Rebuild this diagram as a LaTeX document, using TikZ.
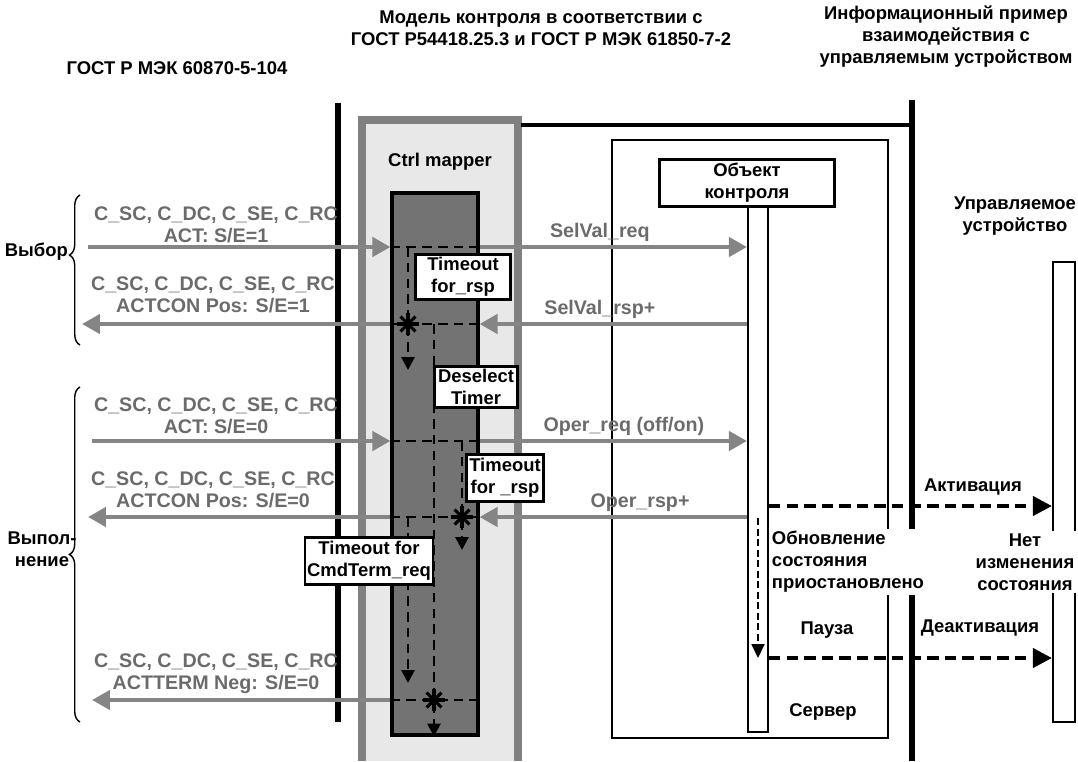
\documentclass[tikz,border=0pt]{standalone}
\usepackage{fontspec}
\setmainfont{Liberation Sans}
\usepackage{tikz}
\usetikzlibrary{positioning,arrows.meta,calc,decorations.pathreplacing}

\begin{document}
\begin{tikzpicture}[x=0.02cm,y=-0.02cm,font=\fontsize{10.5}{12.5}\selectfont\bfseries,
  msg/.style={line width=2.6pt,draw=black!48,-{Triangle[length=3.6mm,width=3.8mm]}},
  msglbl/.style={text=black!58,align=center,inner sep=0pt,font=\fontsize{11.2}{12.5}\selectfont\bfseries},
  tdash/.style={line width=1.6pt,dash pattern=on 5.5pt off 3.5pt},
  tarrow/.style={tdash,-{Triangle[length=2.6mm,width=2.6mm]}},
  tbox/.style={draw,line width=1.3pt,fill=white,align=center,inner sep=1pt},
  devarrow/.style={line width=2.2pt,dash pattern=on 6.5pt off 3.5pt,-{Triangle[length=3.8mm,width=3.8mm]}},
  heavy/.style={line width=3.4pt},
  tstar/.pic={\foreach \a in {0,45,90,135} \draw[line width=1.8pt] (\a:6pt) -- (\a+180:6pt);}]
\useasboundingbox (0,0) rectangle (1078,761);
% headings
\node (h104) at (177,68) {ГОСТ Р МЭК 60870-5-104};
\node[align=center] (hmodel) at (541,28) {Модель контроля в соответствии с\\ГОСТ Р54418.25.3 и ГОСТ Р МЭК 61850-7-2};
\node[align=center] (hinfo) at (946,37) {Информационный пример\\взаимодействия с\\управляемым устройством};
% frames
\fill[black!9] (362,120) rectangle (518,761);
\draw[line width=4.5pt,black!50] (362,761) -- (362,120) -- (518,120) -- (518,761);
\draw[heavy] (338,103) -- (338,722);
\draw[heavy] (912,100) -- (912,761);
\draw[line width=1.8pt] (521,125) -- (912,125);
\draw[line width=1.2pt] (612,140) rectangle (888,738);
\node (mapper) at (440,162) {Ctrl mapper};
\node[draw,line width=1.8pt,fill=black!55,minimum width=1.72cm,minimum height=10.84cm,inner sep=0pt] (ctrl) at (435,464) {};
\node[draw,line width=1.2pt,fill=white,minimum width=3.5cm,minimum height=0.94cm,align=center,inner sep=1pt] (obj) at (747,183) {Объект\\контроля};
\node[draw,line width=1.2pt,fill=white,minimum width=0.4cm,minimum height=10.5cm,inner sep=0pt] (life) at (758,469.5) {};
\node[draw,line width=1.2pt,minimum width=0.44cm,minimum height=9.2cm,inner sep=0pt] (dev) at (1064,492) {};
\node[align=center] (devlbl) at (1015,216) {Управляемое\\устройство};
% message levels
\coordinate (act1) at (88,247);
\coordinate (con1) at (82,324);
\coordinate (act0) at (92,441);
\coordinate (con0) at (88,517);
\coordinate (term) at (92,700);
\coordinate (colA) at (408,0);
\coordinate (colB) at (434,0);
\coordinate (colC) at (462,0);
% timers in the mapper
\foreach \m in {act1,con1,act0,con0,term} \draw[tdash] (\m -| ctrl.west) -- (\m -| ctrl.east);
\draw[tarrow] (act1 -| colA) -- ++(0,123);
\draw[tarrow] (con1 -| colB) -- (ctrl.south -| colB);
\draw[tarrow] (act0 -| colC) -- ++(0,109);
\draw[tarrow] (con0 -| colA) -- ++(0,166);
\pic at (con1 -| colA) {tstar};
\pic at (con0 -| colC) {tstar};
\pic at (term -| colB) {tstar};
\node[tbox,minimum width=1.9cm,minimum height=0.9cm] (to1) at (463,277) {Timeout\\for\_rsp};
\node[tbox,minimum width=1.66cm,minimum height=0.82cm] (desel) at (476,387) {Deselect\\Timer};
\node[tbox,minimum width=1.54cm,minimum height=0.94cm] (to2) at (505,478) {Timeout\\for \_rsp};
\node[tbox,minimum width=2.56cm,minimum height=0.94cm] (to3) at (369,561) {Timeout for\\CmdTerm\_req};
% messages
\draw[msg] (act1) -- (act1 -| ctrl.west);
\draw[msg] (con1 -| ctrl.west) -- (con1);
\draw[msg] (act0) -- (act0 -| ctrl.west);
\draw[msg] (con0 -| ctrl.west) -- (con0);
\draw[msg] (term -| ctrl.west) -- (term);
\draw[msg] (act1 -| ctrl.east) -- (act1 -| life.west) node[msglbl,pos=0.45,above=2pt] {SelVal\_req};
\draw[msg] (con1 -| life.west) -- (con1 -| ctrl.east) node[msglbl,pos=0.55,above=2pt] {SelVal\_rsp+};
\draw[msg] (act0 -| ctrl.east) -- (act0 -| life.west) node[msglbl,pos=0.54,above=2pt] {Oper\_req (off/on)};
\draw[msg] (con0 -| life.west) -- (con0 -| ctrl.east) node[msglbl,pos=0.4,above=2pt] {Oper\_rsp+};
\node[msglbl] (lact1) at (216,225) {C\_SC, C\_DC, C\_SE, C\_RC\\ACT: S/E=1};
\node[msglbl] (lcon1) at (213,295) {C\_SC, C\_DC, C\_SE, C\_RC\\ACTCON Pos: S/E=1};
\node[msglbl] (lact0) at (216,416) {C\_SC, C\_DC, C\_SE, C\_RC\\ACT: S/E=0};
\node[msglbl] (lcon0) at (213,490) {C\_SC, C\_DC, C\_SE, C\_RC\\ACTCON Pos: S/E=0};
\node[msglbl] (lterm) at (216,674) {C\_SC, C\_DC, C\_SE, C\_RC\\ACTTERM Neg: S/E=0};
% braces
\draw[decorate,decoration={brace,amplitude=6pt,aspect=0.6},line width=0.8pt] (80,345) -- (80,195);
\node[anchor=east] (lsel) at (74,252) {Выбор};
\draw[decorate,decoration={brace,amplitude=6pt,aspect=0.5},line width=0.8pt] (80,722) -- (80,387);
\node[align=center] (lexe) at (42,549) {Выпол-\\нение};
% controlled device
\coordinate (actv) at (0,506);
\coordinate (deact) at (0,658);
\coordinate (upd) at (0,518);
\draw[devarrow] (actv -| life.east) -- (actv -| dev.west);
\draw[line width=1pt,dash pattern=on 4pt off 2pt,-{Triangle[length=2.8mm,width=2.6mm]}] (upd -| life.center) -- (deact -| life.center);
\draw[devarrow] (deact -| life.east) -- (deact -| dev.west);
\node (lactv) at (973,487) {Активация};
\node (ldeact) at (980,628) {Деактивация};
\node[fill=white,align=left,anchor=west,inner sep=1.5pt] (lupd) at (769,562) {Обновление\\состояния\\приостановлено};
\node[fill=white,align=center,inner sep=1.5pt] (lnochg) at (1025,562) {Нет\\изменения\\состояния};
\node (lpause) at (827,630) {Пауза};
\node (lsrv) at (823,712) {Сервер};
\end{tikzpicture}
\end{document}
